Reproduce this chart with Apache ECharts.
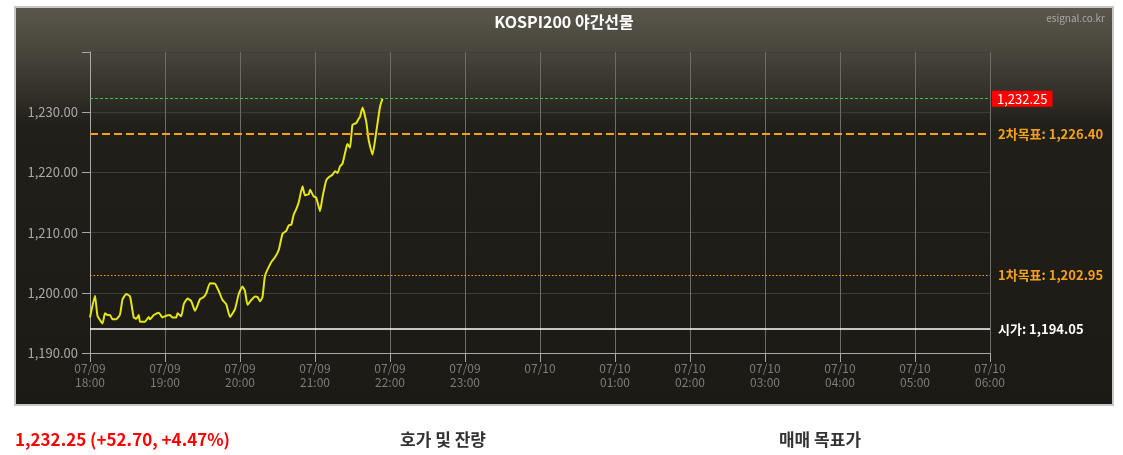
<!DOCTYPE html>
<html>
<head>
<meta charset="utf-8">
<script src="https://cdn.jsdelivr.net/npm/echarts@6/dist/echarts.min.js"></script>
<style>
html,body{margin:0;padding:0;background:#fff;}
#chart{width:1123px;height:455px;}
</style>
</head>
<body>
<div id="chart"></div>
<script>
// minutes after 07/09 18:00
const times = [0,4,6,10,12,14,16,18,21,24,26,29,32,35,37,39,40,44,47,48,51,55,58,61,64,66,69,70,73,75,78,81,84,88,91,93,96,100,103,106,109,112,116,119,122,124,126,129,132,134,136,138,140,145,148,151,154,157,159,161,163,165,167,170,172,175,176,179,181,184,186,189,191,194,196,198,200,202,205,206,208,210,213,215,216,218,221,223,226,229,232,234];
const prices = [1195.9,1199.5,1196.2,1194.9,1196.6,1196.3,1196.3,1195.6,1195.6,1196.4,1198.9,1199.8,1199.4,1195.9,1195.7,1196.3,1195.2,1195.2,1196.0,1195.6,1196.3,1196.7,1195.9,1196.2,1196.3,1195.9,1195.9,1196.6,1196.1,1198.1,1199.05,1198.6,1197.0,1198.95,1199.3,1199.9,1201.6,1201.5,1200.3,1198.8,1198.1,1196.0,1197.3,1199.8,1201.05,1200.3,1198.0,1198.8,1199.4,1199.3,1198.6,1199.3,1202.8,1205.1,1205.9,1207.1,1209.8,1210.3,1211.2,1211.3,1213.0,1213.9,1215.05,1217.7,1216.2,1216.4,1217.1,1216.0,1215.8,1213.55,1215.9,1218.7,1219.2,1219.6,1220.2,1219.9,1221.0,1221.45,1224.1,1224.7,1224.1,1227.9,1228.2,1228.95,1229.2,1230.8,1228.4,1225.3,1222.95,1226.7,1230.9,1232.25];
const xTickLabels = ['07/09\n18:00','07/09\n19:00','07/09\n20:00','07/09\n21:00','07/09\n22:00','07/09\n23:00','07/10','07/10\n01:00','07/10\n02:00','07/10\n03:00','07/10\n04:00','07/10\n05:00','07/10\n06:00'];
const yTickLabels = ['1,190.00','1,200.00','1,210.00','1,220.00','1,230.00',''];
const lastPrice = 1232.25;
const target2 = 1226.40;
const target1 = 1202.95;
const openPrice = 1194.05;
const lastLabel = '1,232.25';
const target2Label = '2차목표: 1,226.40';
const target1Label = '1차목표: 1,202.95';
const openLabel = '시가: 1,194.05';
const titleText = 'KOSPI200 야간선물';
const sourceText = 'esignal.co.kr';
const summaryText = '1,232.25 (+52.70, +4.47%)';
const sectionTexts = ['호가 및 잔량','매매 목표가'];

const FONT = '"Noto Sans CJK KR", "Noto Sans", sans-serif';
const chart = echarts.init(document.getElementById('chart'), null, {renderer:'canvas'});
const seriesData = times.map((t,i)=>[t, prices[i]]);

chart.setOption({
  animation:false,
  textStyle:{fontFamily:FONT},
  grid:{left:90,right:133,top:52,bottom:102,containLabel:false},
  graphic:[
    {type:'rect',z:-100,shape:{x:15,y:7,width:1098,height:398},
     style:{fill:new echarts.graphic.LinearGradient(0,0,0,1,[
        {offset:0,color:'#5b574c'},{offset:0.12,color:'#47443b'},{offset:0.3,color:'#211f1a'},{offset:1,color:'#1c1a15'}]),
        stroke:'#c8c8c8',lineWidth:2}},
    {type:'text',x:564,y:22,style:{text:titleText,fill:'#ffffff',font:'bold 16px '+FONT,align:'center',verticalAlign:'middle'}},
    {type:'text',x:1105,y:18,style:{text:sourceText,fill:'#a8a8a8',font:'10px '+FONT,align:'right',verticalAlign:'middle'}},
    {type:'text',x:15,y:440,style:{text:summaryText,fill:'#ff0000',font:'bold 17px '+FONT,align:'left',verticalAlign:'middle'}},
    {type:'text',x:443,y:440,style:{text:sectionTexts[0],fill:'#333333',font:'bold 17px '+FONT,align:'center',verticalAlign:'middle'}},
    {type:'text',x:820,y:440,style:{text:sectionTexts[1],fill:'#333333',font:'bold 17px '+FONT,align:'center',verticalAlign:'middle'}}
  ],
  xAxis:{
    type:'value',min:0,max:720,interval:60,
    axisLine:{show:true,lineStyle:{color:'#a8a8a8',width:1}},
    axisTick:{show:true,length:9,lineStyle:{color:'#a8a8a8'}},
    axisLabel:{margin:8,color:'#7c7c7c',fontSize:12,lineHeight:14,fontFamily:FONT,
      formatter:(v)=>xTickLabels[Math.round(v/60)]},
    splitLine:{show:true,lineStyle:{color:'#6e6c66',width:1}}
  },
  yAxis:{
    type:'value',min:1190,max:1240,interval:10,
    axisLine:{show:true,lineStyle:{color:'#a8a8a8',width:1}},
    axisTick:{show:true,length:8,lineStyle:{color:'#a8a8a8'}},
    axisLabel:{margin:12,color:'#a8a8a8',fontSize:13,fontFamily:FONT,
      formatter:(v)=>yTickLabels[Math.round((v-1190)/10)]},
    splitLine:{show:true,lineStyle:{color:'#3e3c36',width:1}}
  },
  series:[{
    type:'line',data:seriesData,showSymbol:false,smooth:0.15,
    lineStyle:{color:'#e6e614',width:2},
    markLine:{
      silent:true,symbol:'none',
      data:[
        {yAxis:openPrice,lineStyle:{color:'#ffffff',type:'solid',width:1.5},
         label:{show:true,position:'end',distance:8,formatter:openLabel,color:'#ffffff',fontWeight:'bold',fontSize:13,fontFamily:FONT}},
        {yAxis:target1,lineStyle:{color:'#ffa500',type:[1.5,2],width:1},
         label:{show:true,position:'end',distance:8,formatter:target1Label,color:'#f7a11a',fontWeight:'bold',fontSize:13,fontFamily:FONT}},
        {yAxis:target2,lineStyle:{color:'#f7a11a',type:[8,4],width:2},
         label:{show:true,position:'end',distance:8,formatter:target2Label,color:'#f7a11a',fontWeight:'bold',fontSize:13,fontFamily:FONT}},
        {yAxis:lastPrice,lineStyle:{color:'#33cc22',type:[3,2],width:1},
         label:{show:true,position:'end',distance:2,formatter:lastLabel,color:'#ffffff',backgroundColor:'#ff0000',padding:[2,5,1,5],fontSize:13,fontFamily:FONT}}
      ]
    }
  }]
});
</script>
</body>
</html>
